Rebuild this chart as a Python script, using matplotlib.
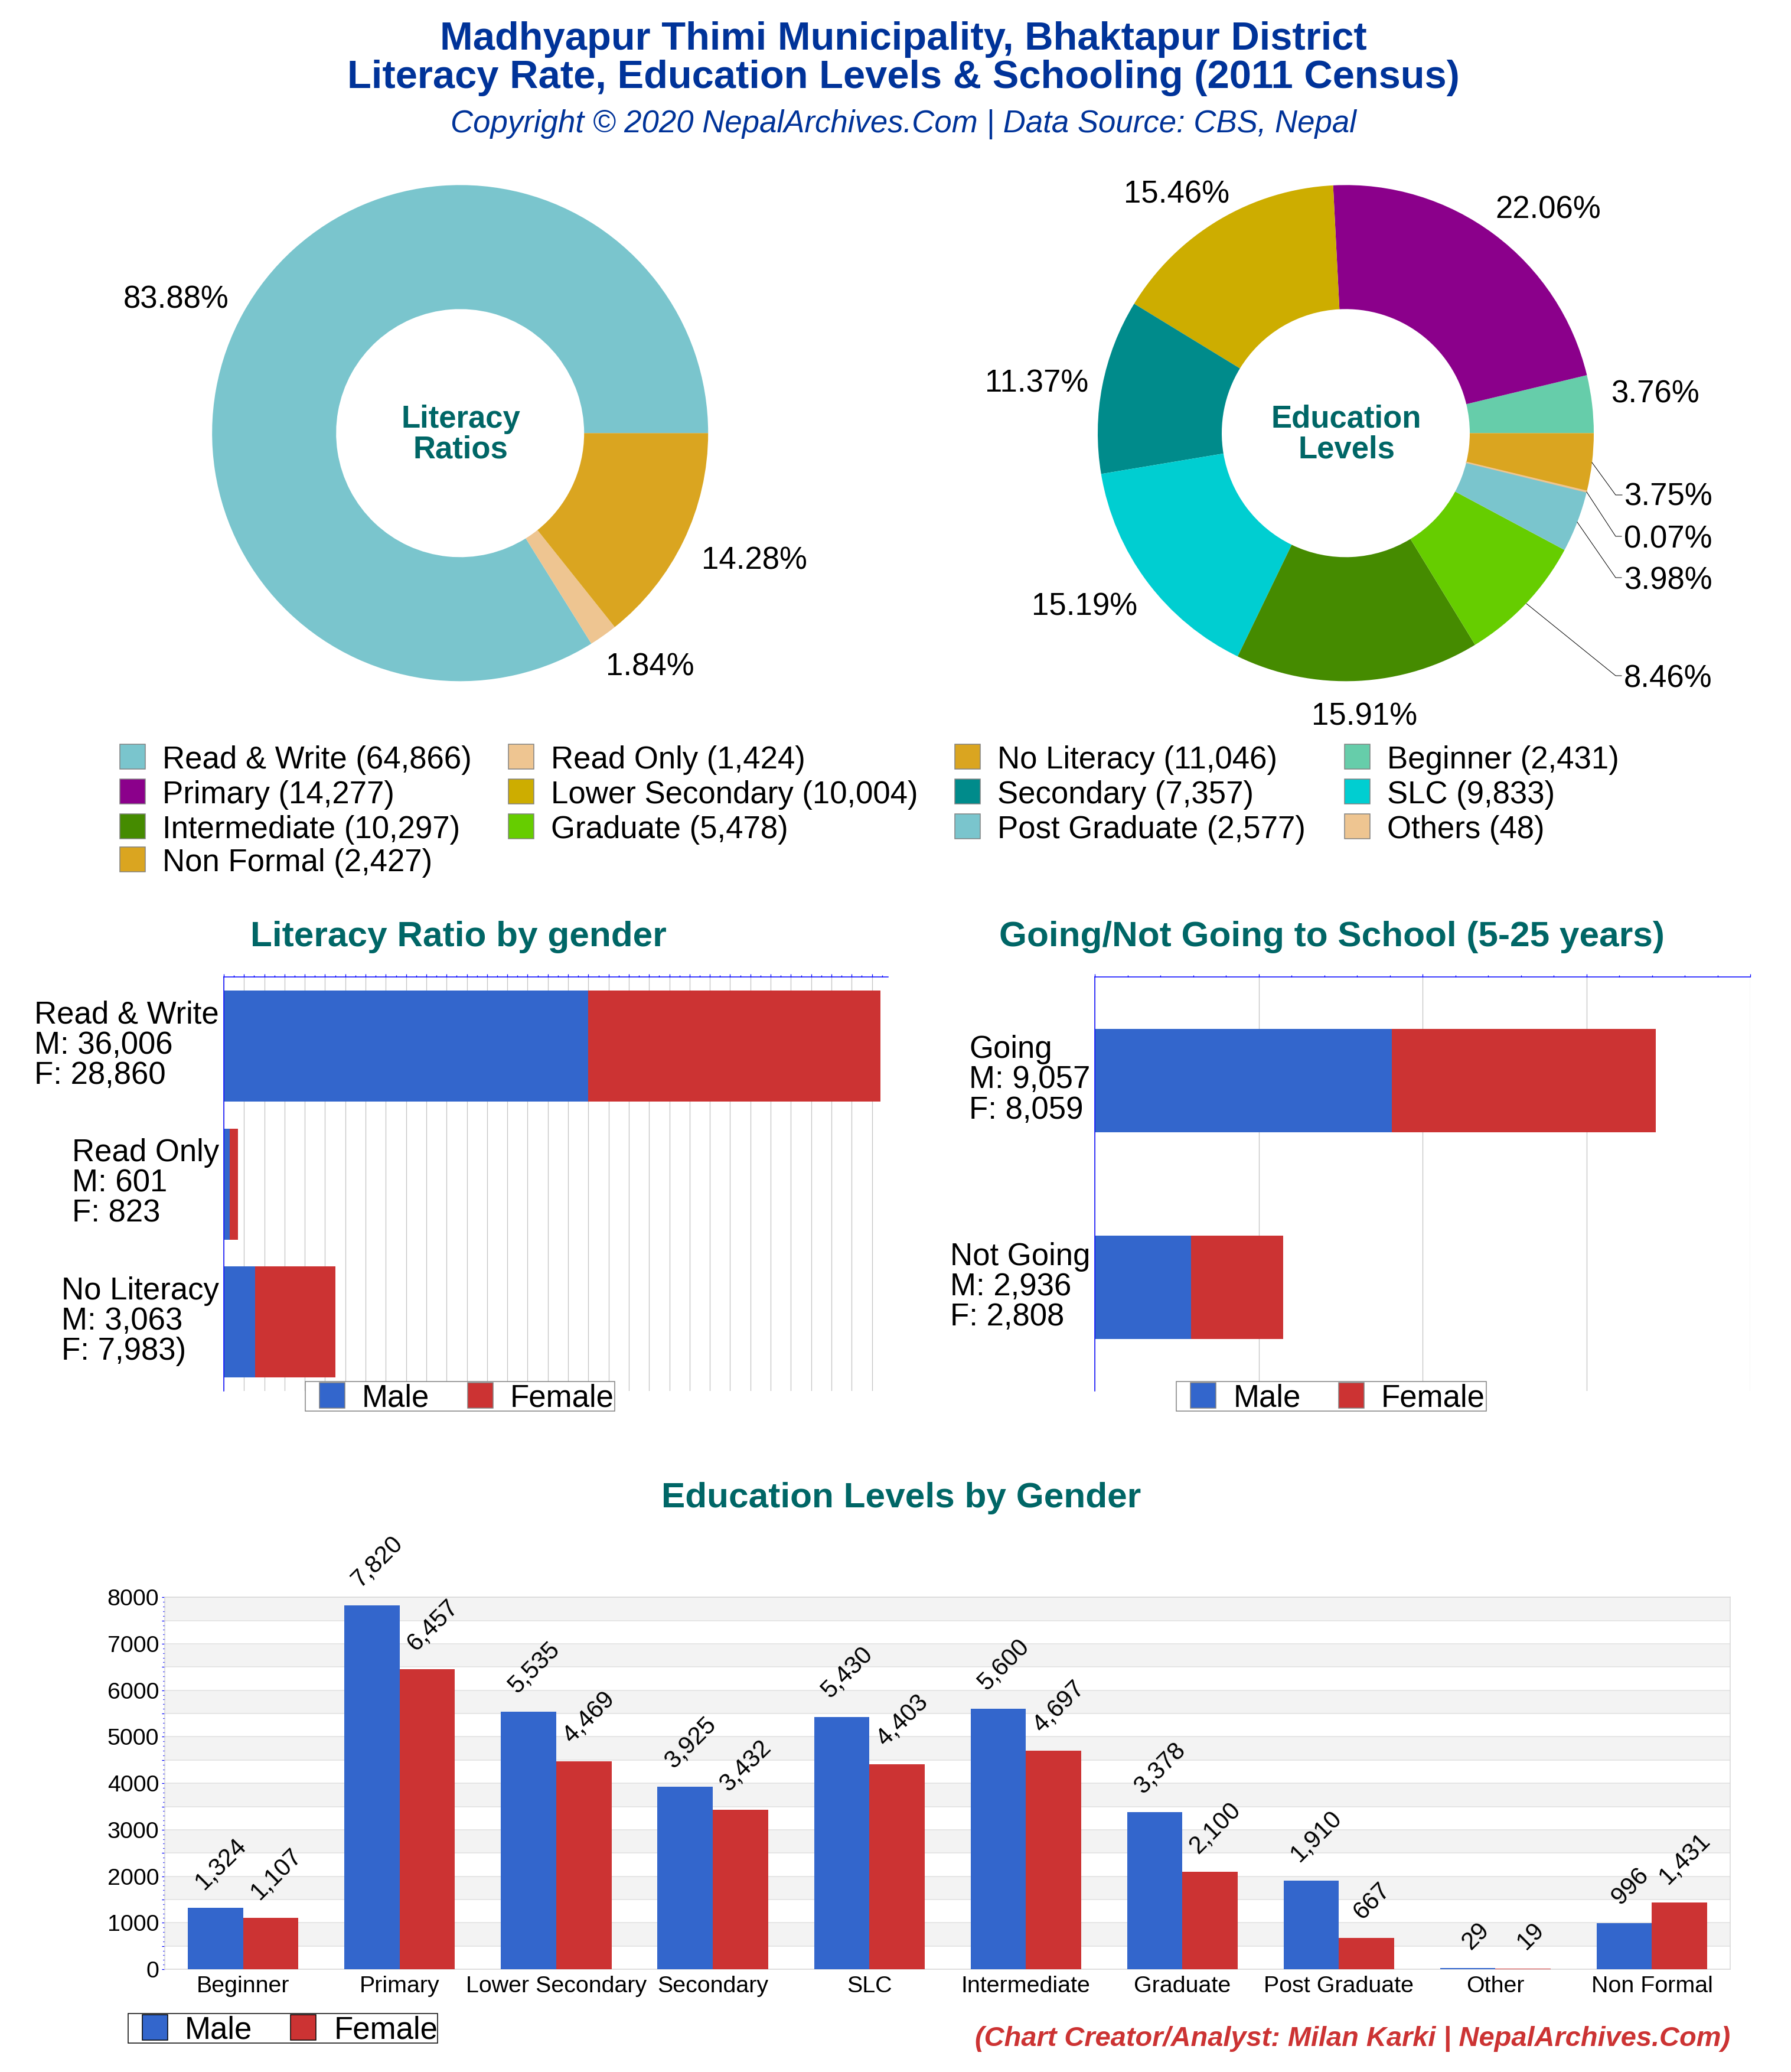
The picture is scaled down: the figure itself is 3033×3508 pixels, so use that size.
import numpy as np
import matplotlib
matplotlib.use('Agg')
import matplotlib.pyplot as plt
from matplotlib.patches import Rectangle
from matplotlib.ticker import MultipleLocator, NullFormatter

plt.rcParams['font.family'] = ['Liberation Sans', 'DejaVu Sans']

W, H = 3033, 3508
NAVY = '#003399'
TEAL = '#006666'
BLUE = '#3366cc'
RED = '#cc3333'

# donut data
literacy_names = ['Read & Write', 'Read Only', 'No Literacy']
literacy_values = [64866, 1424, 11046]
literacy_pct = ['83.88%', '1.84%', '14.28%']
literacy_colors = ['#7AC5CD', '#EEC591', '#DAA520']

edu_names = ['Beginner', 'Primary', 'Lower Secondary', 'Secondary', 'SLC', 'Intermediate',
             'Graduate', 'Post Graduate', 'Others', 'Non Formal']
edu_values = [2431, 14277, 10004, 7357, 9833, 10297, 5478, 2577, 48, 2427]
edu_pct = ['3.76%', '22.06%', '15.46%', '11.37%', '15.19%', '15.91%', '8.46%', '3.98%', '0.07%', '3.75%']
edu_colors = ['#66CDAA', '#8B008B', '#CDAD00', '#008B8B', '#00CED1', '#458B00',
              '#66CD00', '#7AC5CD', '#EEC591', '#DAA520']

# gender bars
lit_labels = ['Read & Write\nM: 36,006\nF: 28,860', 'Read Only\nM: 601\nF: 823', 'No Literacy\nM: 3,063\nF: 7,983)']
lit_male = [36006, 601, 3063]
lit_female = [28860, 823, 7983]

school_labels = ['Going\nM: 9,057\nF: 8,059', 'Not Going\nM: 2,936\nF: 2,808']
school_male = [9057, 2936]
school_female = [8059, 2808]

level_names = ['Beginner', 'Primary', 'Lower Secondary', 'Secondary', 'SLC', 'Intermediate',
               'Graduate', 'Post Graduate', 'Other', 'Non Formal']
level_male = [1324, 7820, 5535, 3925, 5430, 5600, 3378, 1910, 29, 996]
level_female = [1107, 6457, 4469, 3432, 4403, 4697, 2100, 667, 19, 1431]

fig = plt.figure(figsize=(W / 100, H / 100), dpi=100, facecolor='white')


def px_axes(x0, y0, x1, y1):
    return fig.add_axes([x0 / W, 1 - y1 / H, (x1 - x0) / W, (y1 - y0) / H])


def px(n):
    # pixels to points at dpi 100
    return n * 0.72


def donut(cx, cy, r, values, colors):
    ax = px_axes(cx - r, cy - r, cx + r, cy + r)
    wedges, _ = ax.pie(values, colors=colors, startangle=0, counterclock=True,
                       wedgeprops=dict(width=0.5, linewidth=0))
    # very thin slices still have to show
    for wd, v, c in zip(wedges, values, colors):
        if v / sum(values) < 0.002:
            wd.set_edgecolor(c)
            wd.set_linewidth(px(1.5))
            wd.set_zorder(5)
    ax.set_xlim(-1, 1)
    ax.set_ylim(-1, 1)


donut(779.2, 733.3, 420, literacy_values, literacy_colors)
donut(2279, 733.3, 420, edu_values, edu_colors)


def stacked(x0, x1, male, female, labels, xmax, major, height):
    ax = px_axes(x0, 1654.3, x1, 2355)
    y = np.arange(len(labels))
    ax.set_axisbelow(True)
    ax.barh(y, male, height=height, color=BLUE, linewidth=0)
    ax.barh(y, female, left=male, height=height, color=RED, linewidth=0)
    ax.set_xlim(0, xmax)
    ax.set_ylim(len(labels) - 0.5, -0.5)
    ax.xaxis.tick_top()
    ax.xaxis.set_major_locator(MultipleLocator(major))
    ax.xaxis.set_minor_locator(MultipleLocator(1000))
    ax.xaxis.set_major_formatter(NullFormatter())
    ax.tick_params(axis='x', which='major', length=px(5), width=px(1.3), color='#0000ff')
    ax.tick_params(axis='x', which='minor', length=px(3), width=px(1.3), color='#0000ff')
    ax.grid(True, axis='x', which='major', color='#c4c4c4', linewidth=px(1.3))
    ax.set_yticks([])
    for yi, lab in zip(y, labels):
        ax.annotate(lab, (0, yi), xycoords=ax.get_yaxis_transform(), xytext=(px(-8), px(1)),
                    textcoords='offset points', fontsize=38, ha='right', va='center',
                    multialignment='left', linespacing=1.03)
    for s in ['right', 'bottom']:
        ax.spines[s].set_visible(False)
    for s in ['top', 'left']:
        ax.spines[s].set_color('#0000ff')
        ax.spines[s].set_linewidth(px(1.5))
    return ax


stacked(379, 1504, lit_male, lit_female, lit_labels, 65600, 2000, 0.805)
stacked(1854.3, 2964, school_male, school_female, school_labels, 20000, 5000, 0.5)

# education levels by gender
ax = px_axes(279.3, 2704.3, 2930, 3334)
x = np.arange(len(level_names))
bw = 0.353
ax.set_axisbelow(True)
for k in range(0, 8000, 1000):
    ax.axhspan(k + 500, k + 1000, color='#f3f3f3', linewidth=0, zorder=0)
ax.bar(x - bw / 2, level_male, width=bw, color=BLUE, linewidth=0, zorder=3)
ax.bar(x + bw / 2, level_female, width=bw, color=RED, linewidth=0, zorder=3)
ax.set_xlim(-0.5, 9.5)
ax.set_ylim(0, 8000)
ax.set_xticks(x)
ax.set_xticklabels(level_names, fontsize=28.4)
ax.tick_params(axis='x', length=0, pad=px(11))
yt = np.arange(0, 8500, 500)
ax.set_yticks(yt)
ax.set_yticklabels([str(v) if v % 1000 == 0 else '' for v in yt], fontsize=28.4)
ax.yaxis.set_minor_locator(MultipleLocator(100))
ax.tick_params(axis='y', which='major', length=px(5), width=px(1.3), color='#0000ff', pad=px(5))
ax.tick_params(axis='y', which='minor', length=px(3), width=px(1.3), color='#0000ff')
ax.grid(True, axis='y', which='major', color='#e0e0e0', linewidth=px(1.5))
for s in ax.spines.values():
    s.set_color('#d8d8d8')
    s.set_linewidth(px(1.5))
for xi, m, f in zip(x, level_male, level_female):
    for xp, v in ((xi - bw / 2, m), (xi + bw / 2, f)):
        txt = f'{v:,}'
        # labels start at a fixed height above the bar and lean right, so the centre moves with the length
        half = (len(txt.replace(',', '')) * 0.556 + txt.count(',') * 0.278) * 41.5 / 2 / np.sqrt(2)
        dx = 9 if v >= 1000 else (10 if v >= 100 else 13.5)
        ax.annotate(txt, (xp, v), xytext=(px(dx), px(38 + half)), textcoords='offset points',
                    rotation=45, rotation_mode='anchor', ha='center', va='center', fontsize=30)

# overlay in picture pixels for titles, legends, donut labels
ov = fig.add_axes([0, 0, 1, 1], zorder=10)
ov.set_xlim(0, W)
ov.set_ylim(H, 0)
ov.axis('off')
ov.patch.set_alpha(0)

ov.text(1530, 67, 'Madhyapur Thimi Municipality, Bhaktapur District', color=NAVY, fontsize=48.2,
        fontweight='bold', ha='center', va='center')
ov.text(1530, 132, 'Literacy Rate, Education Levels & Schooling (2011 Census)', color=NAVY, fontsize=48.2,
        fontweight='bold', ha='center', va='center')
ov.text(1530, 210, 'Copyright © 2020 NepalArchives.Com | Data Source: CBS, Nepal', color=NAVY,
        fontsize=38, fontstyle='italic', ha='center', va='center')

for cx, a, b in ((780, 'Literacy', 'Ratios'), (2280, 'Education', 'Levels')):
    ov.text(cx, 710, a, color=TEAL, fontsize=38, fontweight='bold', ha='center', va='center')
    ov.text(cx, 761, b, color=TEAL, fontsize=38, fontweight='bold', ha='center', va='center')

for txt, pos in zip(literacy_pct, [(298, 507), (1101, 1130), (1277, 949)]):
    ov.text(pos[0], pos[1], txt, fontsize=38, ha='center', va='center')
edu_pos = [(2803, 668), (2622, 356), (1993, 329), (1756, 649), (1837, 1027), (2311, 1213),
           (2825, 1150), (2825, 983), (2825, 913), (2825, 842)]
for txt, pos in zip(edu_pct, edu_pos):
    ov.text(pos[0], pos[1], txt, fontsize=38, ha='center', va='center')

leaders = [([2696, 2736, 2747], [783, 838, 838]),
           ([2687, 2736, 2746], [833, 908, 908]),
           ([2671, 2736, 2746], [884, 978, 978]),
           ([2585, 2736, 2746], [1022, 1144, 1144])]
for lx, ly in leaders:
    ov.plot(lx, ly, color='black', linewidth=px(1))

# donut legend, filled column by column along the rows
legend_names = literacy_names + edu_names
legend_values = literacy_values + edu_values
legend_colors = literacy_colors + edu_colors
col_x = [203, 861, 1617, 2277]
row_y = [1260, 1319, 1378, 1434]
for i, (n, v, c) in enumerate(zip(legend_names, legend_values, legend_colors)):
    sx, sy = col_x[i % 4], row_y[i // 4]
    ov.add_patch(Rectangle((sx, sy), 43, 42, facecolor=c, edgecolor='#808080', linewidth=px(1.5)))
    ov.text(sx + 72, sy + 27, f'{n} ({v:,})', fontsize=38, ha='left', va='center')

ov.text(776, 1586, 'Literacy Ratio by gender', color=TEAL, fontsize=43.5, fontweight='bold', ha='center', va='center')
ov.text(2255, 1586, 'Going/Not Going to School (5-25 years)', color=TEAL, fontsize=43.5, fontweight='bold',
        ha='center', va='center')
ov.text(1526, 2536, 'Education Levels by Gender', color=TEAL, fontsize=43.5, fontweight='bold', ha='center', va='center')


def gender_legend(box, sw_m, sw_f, tx_m, tx_f, y0, edge):
    ov.add_patch(Rectangle((box[0], y0), box[1] - box[0], 50, facecolor='white', edgecolor=edge, linewidth=px(1.5)))
    ov.add_patch(Rectangle((sw_m, y0 + 2), 43, 43, facecolor=BLUE, edgecolor=edge, linewidth=px(1.5)))
    ov.add_patch(Rectangle((sw_f, y0 + 2), 43, 43, facecolor=RED, edgecolor=edge, linewidth=px(1.5)))
    ov.text(tx_m, y0 + 28, 'Male', fontsize=38, ha='left', va='center')
    ov.text(tx_f, y0 + 28, 'Female', fontsize=38, ha='left', va='center')


gender_legend((517, 1041), 541, 792, 613, 864, 2339, '#808080')
gender_legend((1992, 2517), 2016, 2267, 2089, 2339, 2339, '#808080')
gender_legend((217, 741), 241, 492, 313, 566, 3409, 'black')

ov.text(2930, 3464, '(Chart Creator/Analyst: Milan Karki | NepalArchives.Com)', color=RED, fontsize=33.8,
        fontweight='bold', fontstyle='italic', ha='right', va='baseline')

fig.savefig('out.png', dpi=100)
